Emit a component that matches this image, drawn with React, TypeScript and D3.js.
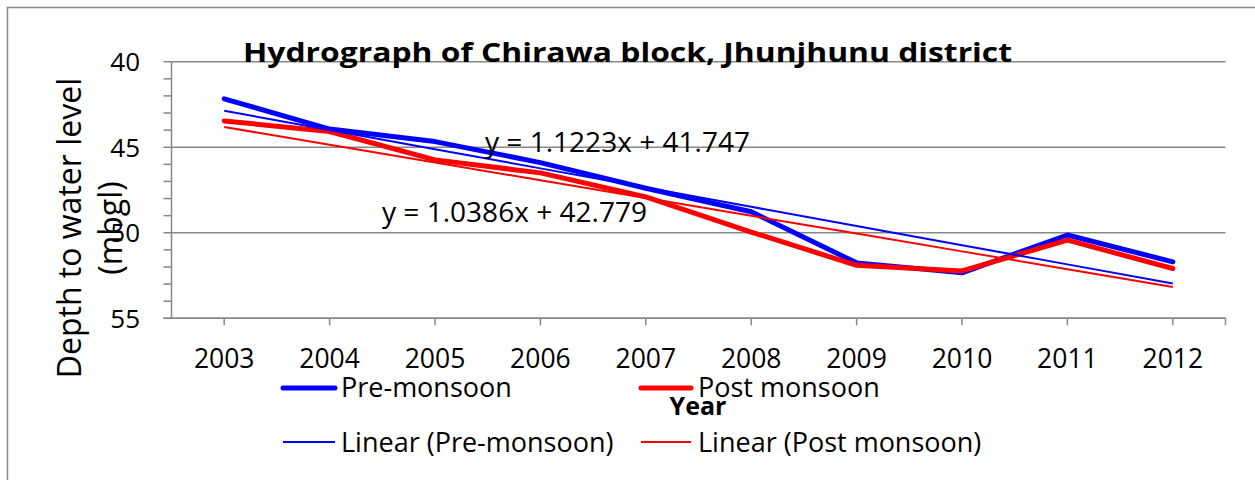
import React from 'react';
import * as d3 from 'd3';

const years = ['2003', '2004', '2005', '2006', '2007', '2008', '2009', '2010', '2011', '2012'];
const preMonsoon = [42.17, 43.94, 44.67, 45.9, 47.4, 48.77, 51.76, 52.34, 50.13, 51.7];
const postMonsoon = [43.46, 44.08, 45.74, 46.5, 47.9, 49.96, 51.9, 52.23, 50.43, 52.09];
const preTrend = { slope: 1.1223, intercept: 41.747 };
const postTrend = { slope: 1.0386, intercept: 42.779 };
const yTicks = [40, 45, 50, 55];
const yMinorTicks = d3.range(40, 56, 1);

const FONT = "'Open Sans', 'Noto Sans', sans-serif";
const GRAY = '#878787';

export default function App() {
  const left = 171.5, right = 1225.5, top = 61.7, bottom = 318.3;
  const x = d3.scalePoint<string>().domain(years).range([left, right]).padding(0.5);
  const y = d3.scaleLinear().domain([40, 55]).range([top, bottom]);

  const line = d3.line<number>().x((_, i) => x(years[i]) as number).y((d) => y(d));
  const trendVals = (t: { slope: number; intercept: number }) => years.map((_, i) => t.slope * (i + 1) + t.intercept);

  return (
    <svg width={1255} height={480} style={{ position: 'absolute', left: 0, top: 0, background: '#fff' }} fontFamily={FONT}>
      <rect x={7.5} y={7.5} width={1300} height={500} fill="#fff" stroke={GRAY} strokeWidth={1.5} />
      {/* gridlines */}
      {yTicks.map((t) => (
        <line key={'g' + t} x1={left} x2={right} y1={y(t)} y2={y(t)} stroke={GRAY} strokeWidth={1.5} />
      ))}
      {/* y axis */}
      <line x1={left} x2={left} y1={top} y2={bottom} stroke={GRAY} strokeWidth={1.5} />
      {yMinorTicks.map((t) => (
        <line key={'m' + t} x1={left - 8} x2={left} y1={y(t)} y2={y(t)} stroke={GRAY} strokeWidth={1.5} />
      ))}
      {yTicks.map((t) => (
        <text key={'yl' + t} x={140} y={y(t) + 9.3} textAnchor="end" fontSize={26} fill="#000">{t}</text>
      ))}
      {/* x axis */}
      <line x1={left - 8} x2={right} y1={bottom} y2={bottom} stroke={GRAY} strokeWidth={1.5} />
      {[...years.map((yr) => x(yr) as number), right].map((px, i) => (
        <line key={'xt' + i} x1={px} x2={px} y1={bottom} y2={bottom + 7} stroke={GRAY} strokeWidth={1.5} />
      ))}
      {years.map((yr) => (
        <text key={'xl' + yr} x={x(yr) as number} y={368} textAnchor="middle" fontSize={26.5} fill="#000">{yr}</text>
      ))}
      {/* series */}
      <path d={line(preMonsoon) || ''} fill="none" stroke="#0000ff" strokeWidth={5} strokeLinejoin="round" strokeLinecap="round" />
      <path d={line(postMonsoon) || ''} fill="none" stroke="#ff0000" strokeWidth={5} strokeLinejoin="round" strokeLinecap="round" />
      <path d={line(trendVals(preTrend)) || ''} fill="none" stroke="#0000ff" strokeWidth={2} />
      <path d={line(trendVals(postTrend)) || ''} fill="none" stroke="#ff0000" strokeWidth={2} />
      {/* equations */}
      <text x={485} y={152} fontSize={27.5} fill="#000" textLength={265} lengthAdjust="spacingAndGlyphs">
        {`y = ${preTrend.slope}x + ${preTrend.intercept}`}
      </text>
      <text x={382} y={222} fontSize={27.5} fill="#000" textLength={265} lengthAdjust="spacingAndGlyphs">
        {`y = ${postTrend.slope}x + ${postTrend.intercept}`}
      </text>
      {/* title */}
      <text x={243} y={62} fontSize={27} fontWeight="bold" fill="#000" textLength={769} lengthAdjust="spacingAndGlyphs">
        Hydrograph of Chirawa block, Jhunjhunu district
      </text>
      {/* y title */}
      <g transform="translate(81,228) rotate(-90)">
        <text x={0} y={0} textAnchor="middle" fontSize={32} fill="#000">Depth to water level</text>
      </g>
      <g transform="translate(122,228) rotate(-90)">
        <text x={0} y={0} textAnchor="middle" fontSize={32} fill="#000">(mbgl)</text>
      </g>
      {/* x title */}
      <text x={698} y={415} textAnchor="middle" fontSize={25} fontWeight="bold" fill="#000">Year</text>
      {/* legend */}
      <line x1={283} x2={335} y1={388} y2={388} stroke="#0000ff" strokeWidth={5} strokeLinecap="round" />
      <text x={341} y={397} fontSize={27} fill="#000">Pre-monsoon</text>
      <line x1={641} x2={691} y1={388} y2={388} stroke="#ff0000" strokeWidth={5} strokeLinecap="round" />
      <text x={698} y={397} fontSize={27} fill="#000">Post monsoon</text>
      <line x1={283} x2={335} y1={442} y2={442} stroke="#0000ff" strokeWidth={2} />
      <text x={341} y={452} fontSize={27} fill="#000">Linear (Pre-monsoon)</text>
      <line x1={641} x2={691} y1={442} y2={442} stroke="#ff0000" strokeWidth={2} />
      <text x={698} y={452} fontSize={27} fill="#000">Linear (Post monsoon)</text>
    </svg>
  );
}
